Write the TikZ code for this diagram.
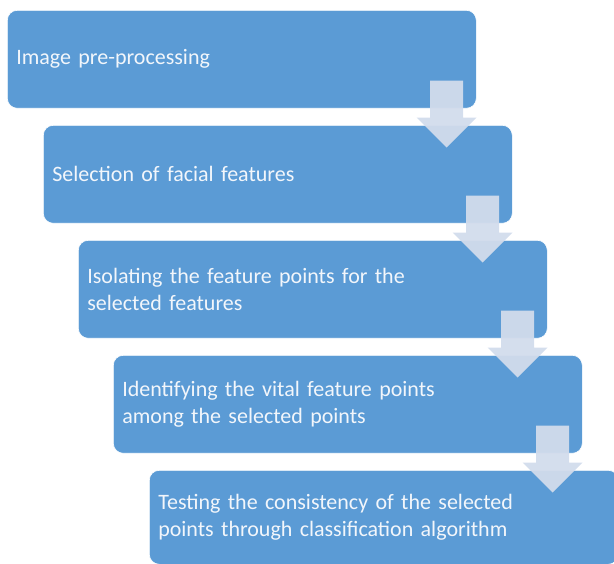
\documentclass[tikz,border=0pt]{standalone}
\usepackage{fontspec}
\setmainfont{Carlito}
\usetikzlibrary{calc}
\definecolor{boxblue}{HTML}{5B9BD5}
\definecolor{arrowgray}{RGB}{210,220,236}
\definecolor{textwhite}{RGB}{242,246,251}
\begin{document}
\begin{tikzpicture}[x=1pt,y=-1pt,
  stepbox/.style={draw=white, line width=0.6pt, fill=boxblue, rounded corners=10pt,
    anchor=north west, minimum width=469pt, minimum height=98pt,
    inner xsep=9pt, inner ysep=0pt, text width=451pt, align=left,
    text=textwhite, font=\fontsize{22}{27.5}\selectfont},
  downarrow/.style={fill=arrowgray, draw=none, opacity=0.95}]
\useasboundingbox (0,0) rectangle (614,564);
\clip (0,0) rectangle (614,564);
\node[stepbox] (b1) at (7,10) {Image pre-processing};
\node[stepbox] (b2) at (43,125) {Selection of facial features};
\node[stepbox] (b3) at (78,240) {Isolating the feature points for the\\selected features};
\node[stepbox] (b4) at (113,355) {Identifying the vital feature points\\among the selected points};
\node[stepbox, minimum height=94pt] (b5) at (149,470) {Testing the consistency of the selected\\points through classification algorithm};
\foreach \a/\b in {b1/b2,b2/b3,b3/b4,b4/b5}{
  \fill[downarrow] ($(\a.south east)+(-46.5,-28)$) -- ($(\a.south east)+(-46.5,9)$)
    -- ($(\a.south east)+(-60,9)$) -- ($(\a.south east)+(-30,39)$)
    -- ($(\a.south east)+(0,9)$) -- ($(\a.south east)+(-13.5,9)$)
    -- ($(\a.south east)+(-13.5,-28)$) -- cycle;
}
\end{tikzpicture}
\end{document}
